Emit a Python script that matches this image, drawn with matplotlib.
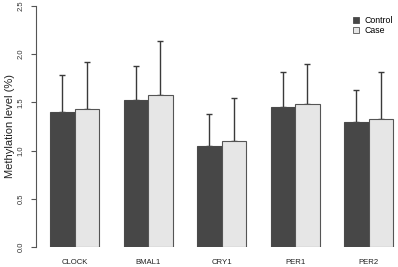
import matplotlib.pyplot as plt
import numpy as np

plt.rcParams['font.family'] = ['Liberation Sans', 'DejaVu Sans']

genes = ['CLOCK', 'BMAL1', 'CRY1', 'PER1', 'PER2']
control_mean = [1.40, 1.53, 1.05, 1.455, 1.30]
control_sd = [0.38, 0.35, 0.33, 0.365, 0.33]
case_mean = [1.43, 1.58, 1.10, 1.48, 1.33]
case_sd = [0.49, 0.56, 0.45, 0.42, 0.49]
yticks = [0.0, 0.5, 1.0, 1.5, 2.0, 2.5]

dark = '#474747'
light = '#e6e6e6'
edge = '#4a4a4a'

fig = plt.figure(figsize=(3.98, 2.67), dpi=100)
# axes placed in pixel terms: y=0 at 247px, y=2.5 at 6px, axis line at 36px
ax = fig.add_axes([36 / 398, 20 / 267, 362 / 398, 241 / 267])

# R barplot style positions (bar width 1, group spacing 3)
idx = np.arange(len(genes))
pos_ctrl = 1.5 + 3 * idx
pos_case = 2.5 + 3 * idx

ax.bar(pos_ctrl, control_mean, width=1, color=dark, edgecolor=edge, linewidth=0.8, zorder=2)
ax.bar(pos_case, case_mean, width=1, color=light, edgecolor='#555555', linewidth=0.8, zorder=2)

ax.errorbar(pos_ctrl, control_mean, yerr=[np.zeros(5), control_sd], fmt='none',
            ecolor='#3a3a3a', elinewidth=1, capsize=2, capthick=1, zorder=1)
ax.errorbar(pos_case, case_mean, yerr=[np.zeros(5), case_sd], fmt='none',
            ecolor='#3a3a3a', elinewidth=1, capsize=2, capthick=1, zorder=1)

ax.set_xlim((36 - 25.5) / 24.5, (398 - 25.5) / 24.5)
ax.set_ylim(0, 2.5)

for s in ['top', 'right', 'bottom']:
    ax.spines[s].set_visible(False)
ax.spines['left'].set_color('#555555')
ax.spines['left'].set_linewidth(0.8)

ax.set_yticks(yticks)
ax.set_yticklabels([f'{v:.1f}' for v in yticks], rotation=90, va='center', fontsize=5.5)
ax.tick_params(axis='y', length=3.6, width=0.8, color='#555555', pad=4.5, labelcolor='#333333')

ax.set_xticks((pos_ctrl + pos_case) / 2)
ax.set_xticklabels(genes, fontsize=5.6, color='#222222')
ax.tick_params(axis='x', length=0, pad=8.5)

ax.set_ylabel('Methylation level (%)', fontsize=8, color='#222222')
ax.yaxis.set_label_coords(-21 / 362, 0.5)

# legend
ax.legend(handles=[plt.Rectangle((0, 0), 1, 1, facecolor=dark, edgecolor=edge, linewidth=0.6),
                   plt.Rectangle((0, 0), 1, 1, facecolor=light, edgecolor='#555555', linewidth=0.6)],
          labels=['Control', 'Case'], loc='upper right', bbox_to_anchor=(1.0, 0.98),
          frameon=False, fontsize=6.3, handlelength=0.7, handleheight=0.7,
          handletextpad=0.6, labelspacing=0.1, borderaxespad=0.2)

fig.savefig('out.png', dpi=100)
